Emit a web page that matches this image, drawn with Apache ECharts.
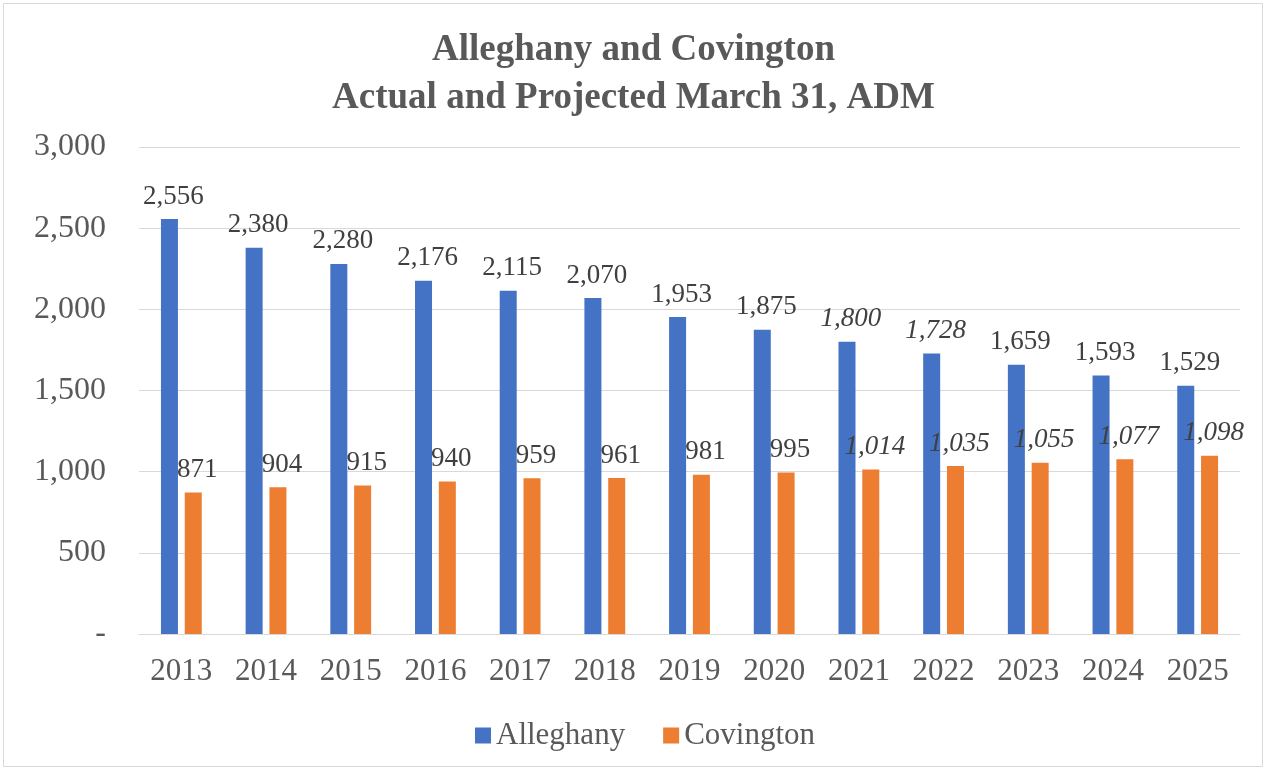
<!DOCTYPE html>
<html><head><meta charset="utf-8">
<script src="https://cdn.jsdelivr.net/npm/echarts@6/dist/echarts.min.js"></script>
<style>html,body{margin:0;padding:0;background:#fff}#c{width:1267px;height:771px}</style>
</head><body><div id="c"></div>
<script>
const years = ['2013','2014','2015','2016','2017','2018','2019','2020','2021','2022','2023','2024','2025'];
const alleghany = [2556,2380,2280,2176,2115,2070,1953,1875,1800,1728,1659,1593,1529];
const covington = [871,904,915,940,959,961,981,995,1014,1035,1055,1077,1098];
// years whose labels are shown as projections (italic) in the source
const alleghanyProjected = ['2021','2022'];
const covingtonProjected = ['2021','2022','2023','2024','2025'];
const yTicks = [0,500,1000,1500,2000,2500,3000];

const fmt = v => v.toLocaleString('en-US');
const serif = '"Liberation Serif","DejaVu Serif",serif';
function mk(vals, proj){
  return vals.map((v,i)=>({value:v,label:{fontStyle:proj.includes(years[i])?'italic':'normal'}}));
}
const labelStyle = {show:true,position:'top',distance:9,offset:[4,0],fontFamily:serif,fontSize:27,color:'#404040',formatter:p=>fmt(p.value)};
const chart = echarts.init(document.getElementById('c'));
chart.setOption({
  backgroundColor:'#fff',
  animation:false,
  title:{text:'Alleghany and Covington\nActual and Projected March 31, ADM',left:'center',top:21,
    textStyle:{fontFamily:serif,fontSize:37,fontWeight:'bold',color:'#595959',lineHeight:48}},
  graphic:[{type:'rect',shape:{x:3.5,y:3.5,width:1259,height:763},style:{fill:'none',stroke:'#d9d9d9',lineWidth:1}}],
  legend:{bottom:15,left:470,itemWidth:16,itemHeight:16,itemGap:38,icon:'rect',
    textStyle:{fontFamily:serif,fontSize:31,color:'#595959'}},
  grid:{left:139,right:27,top:147,bottom:137},
  xAxis:{type:'category',data:years,
    axisLine:{lineStyle:{color:'#d9d9d9'}},axisTick:{show:false},
    axisLabel:{fontFamily:serif,fontSize:31,color:'#595959',margin:22}},
  yAxis:{type:'value',min:0,max:3000,interval:500,
    axisLine:{show:false},axisTick:{show:false},
    splitLine:{lineStyle:{color:'#d9d9d9'}},
    axisLabel:{fontFamily:serif,fontSize:32,color:'#595959',margin:33,
      formatter:v=> yTicks.includes(v) ? (v===0?'-':fmt(v)) : ''}},
  series:[
    {name:'Alleghany',type:'bar',data:mk(alleghany,alleghanyProjected),itemStyle:{color:'#4472C4'},
     barWidth:17,barGap:'40%',label:labelStyle},
    {name:'Covington',type:'bar',data:mk(covington,covingtonProjected),itemStyle:{color:'#ED7D31'},
     barWidth:17,label:labelStyle}
  ]
});
</script></body></html>
